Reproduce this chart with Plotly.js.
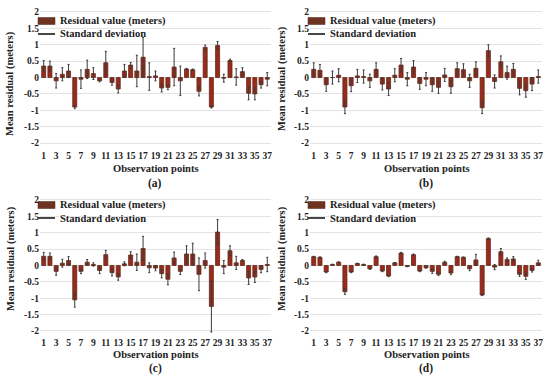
<!DOCTYPE html>
<html>
<head>
<meta charset="utf-8">
<script src="https://cdn.plot.ly/plotly-3.0.1.min.js"></script>
<style>html,body{margin:0;padding:0;background:#fff;}#chart{width:550px;height:377px;}</style>
</head>
<body>
<div id="chart"></div>
<script>
const points = [1,2,3,4,5,6,7,8,9,10,11,12,13,14,15,16,17,18,19,20,21,22,23,24,25,26,27,28,29,30,31,32,33,34,35,36,37];
const tickLabels = ["1","3","5","7","9","11","13","15","17","19","21","23","25","27","29","31","33","35","37"];
const tickVals = [1,3,5,7,9,11,13,15,17,19,21,23,25,27,29,31,33,35,37];

const residualA = [0.35,0.35,-0.1,0.1,0.2,-0.9,-0.05,0.25,0.12,-0.1,0.45,-0.15,-0.35,0.2,0.38,0.2,0.62,0.03,0.05,-0.32,-0.3,0.32,-0.1,0.26,0.24,-0.42,0.92,-0.9,0.98,-0.02,0.52,0.02,0.18,-0.48,-0.5,-0.22,-0.05];
const stdA = [0.17,0.15,0.22,0.2,0.2,0.05,0.28,0.28,0.18,0.03,0.35,0.08,0.12,0.2,0.08,0.48,0.6,0.42,0.15,0.12,0.07,0.57,0.45,0.02,0.02,0.14,0.07,0.03,0.12,0.12,0.04,0.25,0.12,0.2,0.18,0.1,0.2];

const residualB = [0.25,0.22,-0.22,0.0,0.07,-0.9,-0.25,0.05,0.03,-0.1,0.25,-0.2,-0.35,0.07,0.38,-0.05,0.32,-0.18,-0.05,-0.22,-0.3,0.08,-0.28,0.27,0.24,-0.1,0.28,-0.92,0.82,-0.12,0.48,0.15,0.25,-0.33,-0.4,-0.2,0.03];
const stdB = [0.2,0.18,0.2,0.2,0.2,0.2,0.18,0.2,0.2,0.2,0.2,0.18,0.2,0.2,0.2,0.2,0.2,0.18,0.2,0.2,0.18,0.2,0.2,0.18,0.18,0.2,0.2,0.18,0.18,0.2,0.18,0.2,0.18,0.2,0.2,0.2,0.2];

const residualC = [0.28,0.28,-0.18,0.07,0.15,-1.05,-0.18,0.1,0.03,-0.15,0.33,-0.22,-0.35,0.05,0.32,0.1,0.52,-0.07,-0.08,-0.25,-0.42,0.23,-0.18,0.35,0.35,-0.27,0.15,-1.25,1.02,-0.05,0.45,0.08,0.15,-0.38,-0.35,-0.12,0.03];
const stdC = [0.12,0.1,0.12,0.12,0.12,0.22,0.07,0.08,0.05,0.1,0.13,0.1,0.1,0.06,0.1,0.25,0.37,0.15,0.08,0.13,0.17,0.18,0.1,0.25,0.33,0.5,0.23,0.78,0.38,0.2,0.15,0.2,0.03,0.2,0.17,0.1,0.22];

const residualD = [0.27,0.25,-0.2,0.03,0.1,-0.8,-0.2,0.06,0.03,-0.1,0.27,-0.17,-0.32,0.08,0.38,-0.03,0.33,-0.17,-0.07,-0.18,-0.27,0.1,-0.23,0.27,0.25,-0.1,0.17,-0.9,0.82,-0.05,0.42,0.18,0.2,-0.27,-0.33,-0.15,0.08];
const stdD = [0.01,0.01,0.02,0.01,0.01,0.08,0.02,0.01,0.01,0.02,0.02,0.02,0.02,0.01,0.02,0.01,0.02,0.02,0.01,0.06,0.04,0.03,0.05,0.01,0.01,0.06,0.17,0.02,0.02,0.08,0.1,0.05,0.07,0.06,0.1,0.05,0.08];

const panelLabels = ["(a)","(b)","(c)","(d)"];
const seriesNames = ["Residual value (meters)","Standard deviation"];
const panels = [
  {res: residualA, std: stdA},
  {res: residualB, std: stdB},
  {res: residualC, std: stdC},
  {res: residualD, std: stdD}
];

const FONT = "Liberation Serif, DejaVu Serif, serif";
const barFill = "#9b2a1c";
const barLine = "#5e2a18";
const errColor = "#3a3a3a";
const legendBar = "#6e3220";

const W = 550, H = 377;
const px = v => v / W;
const py = v => 1 - v / H;

const xDomains = [[0.0727,0.4927],[0.5636,0.9855],[0.0727,0.4927],[0.5636,0.9855]];
const yDomains = [[0.6074,0.9769],[0.6074,0.9769],[0.109,0.4783],[0.109,0.4783]];
const legendLeft = [38, 308, 38, 308];
const legendRow1 = [21, 21, 205, 205];
const labelRows = [[168, 183], [168, 183], [354, 368], [354, 368]];
const yTitlePos = [[10, 84], [282, 79], [11, 259], [282, 259]];

const traces = [];
const layout = {
  width: W, height: H,
  margin: {l:0,r:0,t:0,b:0},
  paper_bgcolor: "#fff", plot_bgcolor: "#fff",
  font: {family: FONT, color: "#222", size: 9},
  bargap: 0.35,
  showlegend: false,
  annotations: [],
  shapes: []
};

panels.forEach((p, i) => {
  const n = i + 1;
  const xa = n === 1 ? "x" : "x" + n;
  const ya = n === 1 ? "y" : "y" + n;
  traces.push({
    type: "bar", x: points, y: p.res, xaxis: xa, yaxis: ya,
    name: seriesNames[0], showlegend: false,
    marker: {color: barFill, line: {color: barLine, width: 0.8}},
    error_y: {type: "data", array: p.std, visible: true, color: errColor, thickness: 1, width: 1}
  });
  const xk = n === 1 ? "xaxis" : "xaxis" + n;
  const yk = n === 1 ? "yaxis" : "yaxis" + n;
  layout[xk] = {
    domain: xDomains[i], anchor: ya, range: [0.4, 37.6],
    tickmode: "array", tickvals: tickVals, ticktext: tickLabels,
    showgrid: false, zeroline: false, showline: false, ticks: "",
    tickfont: {family: FONT, size: 9.5, color: "#222", weight: "bold"}
  };
  layout[yk] = {
    domain: yDomains[i], anchor: xa, range: [-2.15, 2.1],
    tickmode: "array", tickvals: [-2,-1.5,-1,-0.5,0,0.5,1,1.5,2],
    ticktext: ["-2","-1.5","-1","-0.5","0","0.5","1","1.5","2"],
    showgrid: true, gridcolor: "#e3e3e3", gridwidth: 1, zeroline: false, showline: false, ticks: "",
    tickfont: {family: FONT, size: 9.5, color: "#222", weight: "bold"}
  };
  const xd = xDomains[i];
  const cx = (xd[0] + xd[1]) / 2;
  layout.annotations.push({
    xref: "paper", yref: "paper", x: cx, y: py(labelRows[i][0]), xanchor: "center", yanchor: "middle",
    text: "Observation points", showarrow: false,
    font: {family: FONT, size: 10.5, color: "#222", weight: "bold"}
  });
  layout.annotations.push({
    xref: "paper", yref: "paper", x: cx, y: py(labelRows[i][1]), xanchor: "center", yanchor: "middle",
    text: panelLabels[i], showarrow: false,
    font: {family: FONT, size: 11.5, color: "#222", weight: "bold"}
  });
  layout.annotations.push({
    xref: "paper", yref: "paper", x: px(yTitlePos[i][0]), y: py(yTitlePos[i][1]),
    xanchor: "center", yanchor: "middle", textangle: -90,
    text: "Mean residual (meters)", showarrow: false,
    font: {family: FONT, size: 10.5, color: "#222", weight: "bold"}
  });
  const L = legendLeft[i], r1 = legendRow1[i], r2 = r1 + 13;
  layout.shapes.push({
    type: "rect", xref: "paper", yref: "paper",
    x0: px(L), x1: px(L + 17), y0: py(r1 + 3.5), y1: py(r1 - 3.5),
    fillcolor: legendBar, line: {color: "#4a2014", width: 0.5}
  });
  layout.shapes.push({
    type: "line", xref: "paper", yref: "paper",
    x0: px(L), x1: px(L + 17), y0: py(r2), y1: py(r2),
    line: {color: "#333", width: 1.8}
  });
  layout.annotations.push({
    xref: "paper", yref: "paper", x: px(L + 20), y: py(r1), xanchor: "left", yanchor: "middle",
    text: seriesNames[0], showarrow: false,
    font: {family: FONT, size: 10.5, color: "#222", weight: "bold"}
  });
  layout.annotations.push({
    xref: "paper", yref: "paper", x: px(L + 20), y: py(r2), xanchor: "left", yanchor: "middle",
    text: seriesNames[1], showarrow: false,
    font: {family: FONT, size: 10.5, color: "#222", weight: "bold"}
  });
});

Plotly.newPlot("chart", traces, layout, {displayModeBar: false, staticPlot: true});
</script>
</body>
</html>
